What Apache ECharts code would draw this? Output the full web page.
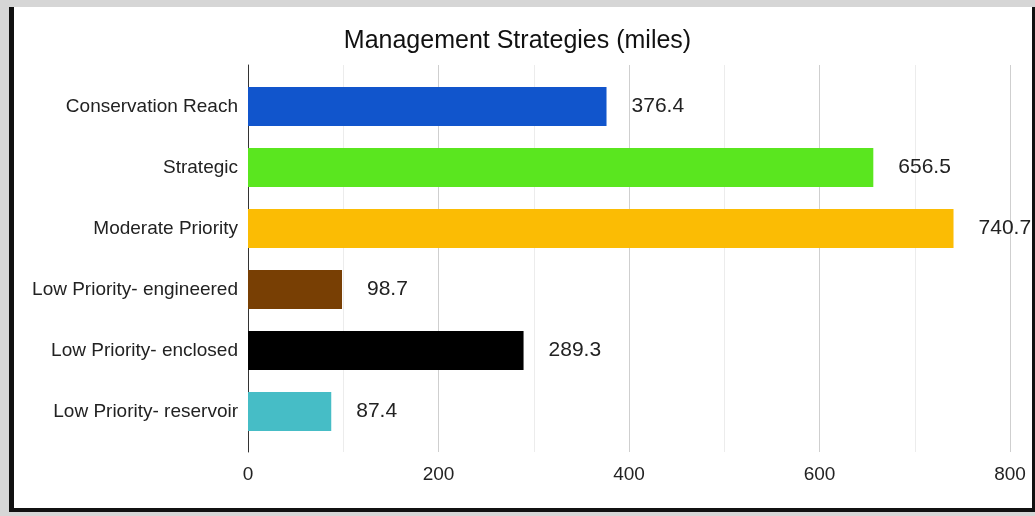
<!DOCTYPE html>
<html>
<head>
<meta charset="utf-8">
<title>Management Strategies (miles)</title>
<script src="https://cdn.jsdelivr.net/npm/echarts@6/dist/echarts.min.js"></script>
<style>
  html, body { margin: 0; padding: 0; background: #d6d6d6; }
  .frame {
    position: absolute; left: 9px; top: 7px; width: 1026px; height: 505px;
    box-sizing: border-box; background: #fff;
    border-left: 5px solid #111; border-right: 3px solid #111; border-bottom: 4px solid #111;
  }
  #chart { position: absolute; left: 0; top: 0; width: 1035px; height: 516px; }
</style>
</head>
<body>
<div class="frame"></div>
<div id="chart"></div>
<script>
// data
const categories = ["Conservation Reach", "Strategic", "Moderate Priority",
  "Low Priority- engineered", "Low Priority- enclosed", "Low Priority- reservoir"];
const miles = [376.4, 656.5, 740.7, 98.7, 289.3, 87.4];
const barColors = ["#1155cc", "#5ae61f", "#fbbc04", "#783f04", "#000000", "#46bdc6"];

const font = "'Liberation Sans', Arial, sans-serif";
const chart = echarts.init(document.getElementById("chart"), null, { renderer: "canvas" });

chart.setOption({
  backgroundColor: "transparent",
  animation: false,
  textStyle: { fontFamily: font },
  title: {
    text: "Management Strategies (miles)",
    left: "center",
    top: 24,
    textStyle: { fontSize: 25, fontWeight: "normal", color: "#111", fontFamily: font }
  },
  grid: [
    // axis/gridline frame (taller than the bars area)
    { left: 248, top: 65, width: 762, height: 387 },
    // bars area
    { left: 248, top: 76, width: 762, height: 366 }
  ],
  xAxis: [
    {
      gridIndex: 0, type: "value", min: 0, max: 800, interval: 200,
      axisLine: { show: false }, axisTick: { show: false },
      axisLabel: { fontSize: 19, color: "#222", margin: 13, fontFamily: font },
      splitLine: { lineStyle: { color: "#cfcfcf" } },
      minorTick: { show: false, splitNumber: 2 },
      minorSplitLine: { show: true, lineStyle: { color: "#ececec" } }
    },
    { gridIndex: 1, type: "value", min: 0, max: 800, show: false }
  ],
  yAxis: [
    {
      gridIndex: 0, type: "value", min: 0, max: 1,
      axisLine: { show: true, lineStyle: { color: "#333" } },
      axisTick: { show: false }, axisLabel: { show: false }, splitLine: { show: false }
    },
    {
      gridIndex: 1, type: "category", data: categories, inverse: true,
      axisLine: { show: false }, axisTick: { show: false },
      axisLabel: { fontSize: 19, color: "#222", margin: 10, fontFamily: font }
    }
  ],
  series: [{
    type: "bar",
    xAxisIndex: 1, yAxisIndex: 1,
    barWidth: 39,
    data: miles.map((v, i) => ({ value: v, itemStyle: { color: barColors[i] } })),
    label: {
      show: true, position: "right", distance: 25,
      fontSize: 21, color: "#222", fontFamily: font,
      formatter: p => p.value.toFixed(1)
    }
  }]
});
</script>
</body>
</html>
